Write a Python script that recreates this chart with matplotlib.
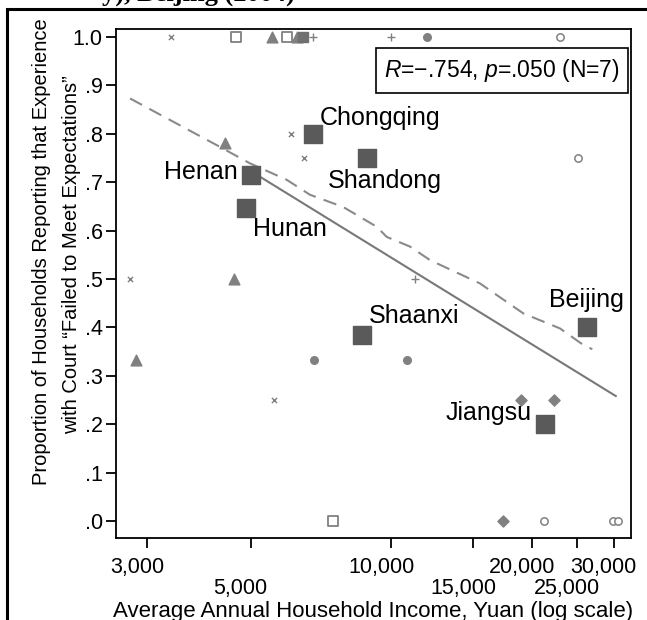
import matplotlib
matplotlib.use("Agg")
import matplotlib.pyplot as plt
import matplotlib.transforms as mtransforms
import numpy as np
from matplotlib.patches import Rectangle
from matplotlib.ticker import FixedFormatter, FixedLocator

plt.rcParams["font.family"] = ["Liberation Sans", "DejaVu Sans"]
plt.rcParams["mathtext.fontset"] = "custom"
plt.rcParams["mathtext.it"] = "Liberation Sans:italic"
plt.rcParams["mathtext.rm"] = "Liberation Sans"

# Province means (large squares)
provinces = ["Chongqing", "Shandong", "Henan", "Hunan", "Shaanxi", "Beijing", "Jiangsu"]
prov_income = [6800, 8870, 5020, 4880, 8650, 26240, 21370]
prov_failed = [0.80, 0.75, 0.715, 0.647, 0.385, 0.40, 0.20]

# Sub-provincial units, one list pair per marker symbol
cross_income = [3376, 6103, 6517, 2758, 5611]
cross_failed = [1.0, 0.80, 0.75, 0.50, 0.25]
hsq_income = [4656, 5976, 7500]
hsq_failed = [1.0, 1.0, 0.0]
tri_income = [5558, 6280, 4406, 4600, 2836]
tri_failed = [1.0, 1.0, 0.78, 0.50, 0.333]
fsq_income = [6486]
fsq_failed = [1.0]
plus_income = [6813, 9980, 11250]
plus_failed = [1.0, 1.0, 0.50]
dot_income = [11920, 6825, 10800]
dot_failed = [1.0, 0.333, 0.333]
ring_income = [23000, 25150, 21250, 29950, 30600]
ring_failed = [1.0, 0.75, 0.0, 0.0, 0.0]
dia_income = [18960, 22370, 17350]
dia_failed = [0.25, 0.25, 0.0]

# Smoothed curve over all units (dashed)
smooth_income = [2760, 4300, 4985, 5976, 6705, 7890, 9316, 9788, 10980, 12120,
                 15500, 19200, 23000, 25800, 26990]
smooth_failed = [0.873, 0.773, 0.739, 0.705, 0.674, 0.649, 0.608, 0.587, 0.567, 0.539,
                 0.491, 0.429, 0.398, 0.364, 0.355]

fit_range = [4880, 30300]

xticks_upper = [3000, 10000, 20000, 30000]
xlabels_upper = ["3,000", "10,000", "20,000", "30,000"]
xticks_lower = [5000, 15000, 25000]
xlabels_lower = ["5,000", "15,000", "25,000"]
yticks = [0.0, 0.1, 0.2, 0.3, 0.4, 0.5, 0.6, 0.7, 0.8, 0.9, 1.0]
ytick_labels = [".0", ".1", ".2", ".3", ".4", ".5", ".6", ".7", ".8", ".9", "1.0"]

GREY = "#808080"
DARK = "#5a5a5a"

fig = plt.figure(figsize=(6.47, 6.20), dpi=100)
ax = fig.add_axes([116 / 647, 1 - 538 / 620, 515 / 647, 509 / 620])

ax.set_xscale("log")
ax.set_xlim(2575, 32660)
ax.set_ylim(-0.035, 1.0165)

# regression of province means on log income
slope, intercept = np.polyfit(np.log10(prov_income), prov_failed, 1)
xs = np.array(fit_range)
ax.plot(xs, intercept + slope * np.log10(xs), color="#787878", lw=1.5, zorder=2)
ax.plot(smooth_income, smooth_failed, color="#8a8a8a", lw=1.5, ls=(0, (6.5, 4)), zorder=2)

ax.scatter(cross_income, cross_failed, marker="x", s=14, color=GREY, linewidths=1.0, zorder=3)
ax.scatter(hsq_income, hsq_failed, marker="s", s=60, facecolor="white", edgecolor=GREY,
           linewidths=1.3, zorder=3)
ax.scatter(tri_income, tri_failed, marker="^", s=60, color=GREY, zorder=3)
ax.scatter(fsq_income, fsq_failed, marker="s", s=55, color="#707070", zorder=3)
ax.scatter(plus_income, plus_failed, marker="+", s=30, color=GREY, linewidths=1.0, zorder=3)
ax.scatter(dot_income, dot_failed, marker="o", s=30, color=GREY, zorder=3)
ax.scatter(ring_income, ring_failed, marker="o", s=28, facecolor="white", edgecolor=GREY,
           linewidths=1.1, zorder=3)
ax.scatter(dia_income, dia_failed, marker="D", s=32, color=GREY, zorder=3)

ax.scatter(prov_income, prov_failed, marker="s", s=175, color=DARK, zorder=4)

label_offsets = {
    "Chongqing": (7, 16, "left"),
    "Shandong": (18, -23, "center"),
    "Henan": (-14, 3, "right"),
    "Hunan": (7, -21, "left"),
    "Shaanxi": (7, 19, "left"),
    "Beijing": (0, 27, "center"),
    "Jiangsu": (-13, 11, "right"),
}
for name, x, y in zip(provinces, prov_income, prov_failed):
    dx, dy, ha = label_offsets[name]
    ax.annotate(name, (x, y), xytext=(dx, dy), textcoords="offset pixels",
                ha=ha, va="center", fontsize=18, zorder=5)

# stats box
ax.add_patch(Rectangle((0.505, 0.8743), 0.489, 0.0884, transform=ax.transAxes,
                       fill=False, ec="black", lw=1.2, zorder=5))
ax.text(0.7495, 0.9185, r"$R$=−.754, $p$=.050 (N=7)", transform=ax.transAxes,
        ha="center", va="center", fontsize=16.5, zorder=6)

# x ticks: two staggered rows (upper = major, lower = minor)
ax.xaxis.set_major_locator(FixedLocator(xticks_upper))
ax.xaxis.set_major_formatter(FixedFormatter(xlabels_upper))
ax.xaxis.set_minor_locator(FixedLocator(xticks_lower))
ax.xaxis.set_minor_formatter(FixedFormatter(xlabels_lower))
ax.set_yticks(yticks)
ax.set_yticklabels(ytick_labels)

ax.tick_params(axis="both", which="both", direction="out", length=7.5, width=1.3,
               labelsize=15.5)
ax.tick_params(axis="x", which="major", pad=6)
ax.tick_params(axis="x", which="minor", pad=21.5)
ax.tick_params(axis="y", pad=2)
for sp in ax.spines.values():
    sp.set_linewidth(1.3)

shift = mtransforms.ScaledTranslation(-10 / 100, 0, fig.dpi_scale_trans)
for lbl in ax.xaxis.get_majorticklabels() + ax.xaxis.get_minorticklabels():
    lbl.set_transform(lbl.get_transform() + shift)

fig.text(373 / 647, 1 - 611 / 620, "Average Annual Household Income, Yuan (log scale)",
         ha="center", va="center", fontsize=16)
fig.text(42 / 647, 1 - 252 / 620, "Proportion of Households Reporting that Experience",
         rotation=90, ha="center", va="center", fontsize=14.5)
fig.text(72 / 647, 1 - 255 / 620, "with Court \u201cFailed to Meet Expectations\u201d",
         rotation=90, ha="center", va="center", fontsize=14.5)

# clipped caption from the page above and outer frame
fig.text(102 / 647, 1 - 0.5 / 620, "y), Beijing (2004)", family="Liberation Serif",
         weight="bold", fontsize=19, va="baseline", ha="left")
fig.patches.append(Rectangle((7 / 647, -0.1), 1.0, 1.1 - 9 / 620, transform=fig.transFigure,
                             fill=False, ec="black", lw=2.2))

fig.savefig("out.png", dpi=100)
